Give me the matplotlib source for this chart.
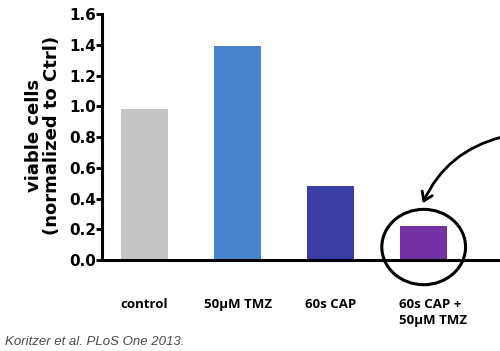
"""
Viable cells after CAP / TMZ treatment, normalized to control.
"""

import matplotlib.pyplot as plt
from matplotlib.patches import Ellipse, FancyArrowPatch

categories = ["control", "50\u00b5M TMZ", "60s CAP", "60s CAP +\n50\u00b5M TMZ"]
values = [0.98, 1.39, 0.48, 0.22]
colors = ["#c6c6c6", "#4a84cf", "#3a3da3", "#7332a4"]
y_ticks = [0.0, 0.2, 0.4, 0.6, 0.8, 1.0, 1.2, 1.4, 1.6]
citation = "Koritzer et al. PLoS One 2013."

bar_width = 0.5

fig = plt.figure(figsize=(5.0, 3.51), dpi=100)
ax = fig.add_axes([0.204, 0.259, 0.796, 0.701])

x = list(range(len(categories)))
ax.bar(x, values, width=bar_width, color=colors, zorder=2)

# axes styling
ax.set_xlim(-0.457, 3.82)
ax.set_ylim(0, 1.6)
ax.spines["top"].set_visible(False)
ax.spines["right"].set_visible(False)
ax.spines["left"].set_linewidth(2.2)
ax.spines["bottom"].set_linewidth(2.2)
ax.set_yticks(y_ticks)
ax.set_yticklabels([f"{t:.1f}" for t in y_ticks], fontsize=11, fontweight="bold")
ax.tick_params(axis="y", length=4, width=2, direction="out", pad=0.5)
ax.set_xticks([])

fig.text(0.086, 0.615, "viable cells\n(normalized to Ctrl)", rotation=90,
         fontsize=13, fontweight="bold", ha="center", va="center",
         multialignment="center", linespacing=1.0)

# category labels under the axis (two-line label starts at the bar's left edge)
for xi, lab in zip(x, categories):
    if "\n" in lab:
        tx, ha = xi - bar_width / 2 - 0.02, "left"
    else:
        tx, ha = xi, "center"
    ax.text(tx, -0.245, lab, ha=ha, va="top", fontsize=9.5, fontweight="bold",
            family="Open Sans", multialignment="left", linespacing=1.35,
            transform=ax.transData, clip_on=False)

# highlight the combination bar
ax.add_patch(Ellipse((3.0, 0.085), 0.9, 0.49, fill=False, lw=2.2, ec="black",
                     clip_on=False, zorder=3))
ax.add_patch(FancyArrowPatch((3.84, 0.80), (2.99, 0.37),
                             connectionstyle="arc3,rad=0.24",
                             arrowstyle="->,head_length=6,head_width=4",
                             shrinkA=0, shrinkB=0,
                             lw=2, color="black", clip_on=False, zorder=3))

fig.text(0.01, 0.026, citation, fontsize=9.5, style="italic", color="#4a4a4a",
         family="Liberation Sans", ha="left", va="center")

fig.savefig("out.png", dpi=100)
